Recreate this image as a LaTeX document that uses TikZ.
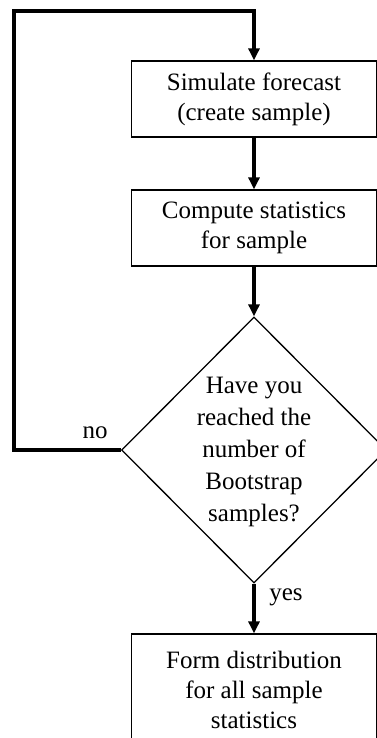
\documentclass[tikz,border=0pt]{standalone}
\usepackage{fontspec}
\setmainfont{Liberation Serif}
\usetikzlibrary{arrows.meta,shapes.geometric}

\tikzset{
  stepbox/.style={draw=black, line width=1.3pt, minimum width=245pt, minimum height=76pt,
    inner sep=0pt, align=center, font=\fontsize{25}{30}\selectfont},
  decision/.style={draw=black, line width=1.3pt, diamond, minimum width=265pt,
    minimum height=266pt, inner sep=0pt},
  plain/.style={align=center, inner sep=0pt, font=\fontsize{25}{32}\selectfont},
  flow/.style={line width=4pt, -{Triangle[length=12pt,width=11pt]}},
}

\begin{document}
\begin{tikzpicture}[x=1pt, y=-1pt]
  \useasboundingbox (0,0) rectangle (377,738);
  \clip (0,0) rectangle (377,738);

  % process boxes
  \node[stepbox] (sim) at (254,99) {Simulate forecast\\(create sample)};
  \node[stepbox] (stat) at (254,228) {Compute statistics\\for sample};

  % decision
  \node[decision] (dec) at (254,450) {};
  \node[plain] (dectext) at (254,452) {Have you\\reached the\\number of\\Bootstrap\\samples?};

  % final box, its lower edge runs past the page
  \node[stepbox, minimum height=112pt] (dist) at (254,690)
    {Form distribution\\for all sample\\statistics};

  % branch labels
  \node[plain] (nolab) at (95,433) {no};
  \node[plain] (yeslab) at (286,597) {yes};

  % loop-back corners
  \coordinate (loopL) at (14,450);
  \coordinate (loopT) at (14,11);

  % connectors
  \draw[flow] (sim) -- (stat);
  \draw[flow] (stat) -- (dec.north);
  \draw[flow] (dec.south) -- (dist);
  \draw[flow] (dec.west) -- (loopL) -- (loopT) -| (sim.north);
\end{tikzpicture}
\end{document}
